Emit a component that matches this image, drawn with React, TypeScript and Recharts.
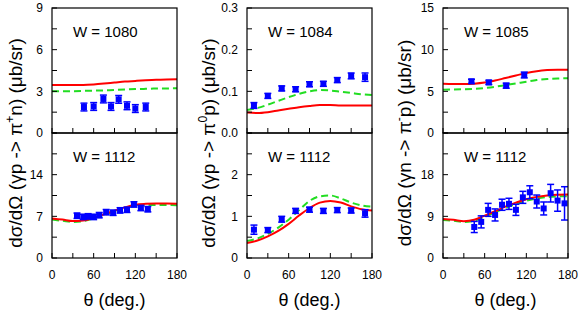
import React from "react";
import { ComposedChart, Line, Scatter, ErrorBar, XAxis, YAxis } from "recharts";

// angle grid for the model curves (deg)
const thetaGrid = [0, 15, 30, 45, 60, 75, 90, 105, 120, 135, 150, 165, 180];
const xTicks = [0, 30, 60, 90, 120, 150, 180];
const xTickLabels = [0, 60, 120, 180];

// gamma p -> pi+ n, W = 1080
const pipn1080Red = [3.46, 3.45, 3.45, 3.46, 3.5, 3.56, 3.63, 3.7, 3.75, 3.8, 3.84, 3.86, 3.87];
const pipn1080Green = [3.0, 3.0, 3.01, 3.03, 3.05, 3.07, 3.1, 3.13, 3.16, 3.18, 3.2, 3.21, 3.22];
const pipn1080Theta = [46, 60, 74, 85, 96, 108, 120, 135];
const pipn1080Data = [1.87, 1.91, 2.45, 1.91, 2.42, 1.96, 1.76, 1.87];
const pipn1080Err = [0.28, 0.28, 0.28, 0.28, 0.28, 0.28, 0.28, 0.28];

// gamma p -> pi+ n, W = 1112
const pipn1112Red = [6.65, 6.45, 6.2, 6.3, 6.75, 7.35, 7.95, 8.5, 8.95, 9.1, 9.15, 9.15, 9.1];
const pipn1112Green = [6.45, 6.25, 6.05, 6.2, 6.65, 7.25, 7.85, 8.4, 8.75, 8.9, 8.9, 8.9, 8.85];
const pipn1112Theta = [36, 45, 52, 60, 68, 78, 88, 98, 108, 118, 128, 138];
const pipn1112Data = [7.1, 6.9, 7.0, 6.9, 7.2, 7.7, 7.6, 8.0, 8.1, 9.0, 8.4, 8.2];
const pipn1112Err = [0.45, 0.45, 0.45, 0.45, 0.45, 0.45, 0.45, 0.45, 0.45, 0.45, 0.45, 0.45];

// gamma p -> pi0 p, W = 1084
const pi0p1084Red = [0.049, 0.048, 0.05, 0.054, 0.058, 0.062, 0.065, 0.067, 0.067, 0.066, 0.066, 0.066, 0.066];
const pi0p1084Green = [0.055, 0.06, 0.068, 0.077, 0.086, 0.094, 0.1, 0.103, 0.102, 0.099, 0.096, 0.093, 0.091];
const pi0p1084Theta = [10, 30, 50, 70, 90, 110, 130, 150, 170];
const pi0p1084Data = [0.066, 0.089, 0.107, 0.105, 0.117, 0.118, 0.127, 0.137, 0.134];
const pi0p1084Err = [0.007, 0.006, 0.006, 0.006, 0.006, 0.006, 0.006, 0.007, 0.01];

// gamma p -> pi0 p, W = 1112
const pi0p1112Red = [0.36, 0.42, 0.52, 0.65, 0.82, 1.02, 1.2, 1.33, 1.37, 1.33, 1.24, 1.17, 1.14];
const pi0p1112Green = [0.41, 0.47, 0.58, 0.73, 0.92, 1.15, 1.37, 1.48, 1.5, 1.43, 1.33, 1.26, 1.23];
const pi0p1112Theta = [10, 30, 50, 70, 90, 110, 130, 150, 170];
const pi0p1112Data = [0.68, 0.67, 0.93, 1.13, 1.16, 1.13, 1.15, 1.14, 1.07];
const pi0p1112Err = [0.11, 0.06, 0.07, 0.06, 0.06, 0.06, 0.06, 0.06, 0.09];

// gamma n -> pi- p, W = 1085
const pimp1085Red = [5.9, 5.88, 5.88, 5.92, 6.05, 6.3, 6.6, 6.9, 7.2, 7.42, 7.55, 7.6, 7.6];
const pimp1085Green = [5.2, 5.22, 5.25, 5.3, 5.4, 5.55, 5.75, 5.95, 6.15, 6.35, 6.48, 6.55, 6.56];
const pimp1085Theta = [41, 66, 91, 117];
const pimp1085Data = [6.2, 6.07, 5.68, 6.96];
const pimp1085Err = [0.25, 0.25, 0.3, 0.35];

// gamma n -> pi- p, W = 1112
const pimp1112Red = [8.42, 8.25, 7.95, 8.25, 9.15, 10.1, 11.1, 11.95, 12.7, 13.2, 13.5, 13.65, 13.7];
const pimp1112Green = [8.2, 8.05, 7.8, 8.05, 8.9, 9.85, 10.8, 11.65, 12.35, 12.85, 13.15, 13.3, 13.35];
const pimp1112Theta = [45, 55, 65, 75, 85, 95, 105, 115, 125, 135, 145, 155, 165, 175];
const pimp1112Data = [6.7, 7.8, 10.4, 9.3, 11.5, 11.7, 10.4, 13.1, 14.2, 12.2, 10.7, 14.0, 12.4, 11.8];
const pimp1112Err = [1.2, 1.3, 1.4, 1.3, 1.2, 1.2, 1.2, 1.3, 1.4, 1.4, 1.4, 1.9, 2.3, 3.6];

const FONT = "'Liberation Sans', Arial, Helvetica, sans-serif";
const RED = "#ff0000";
const GREEN = "#22dd22";
const BLUE = "#0000ff";
const TICK = 5;

const PLOT_W = 125;
const PLOT_H = 125;
const colLeft = [52, 247, 443];
const rowTop = [8, 133];

const toLine = (ys: number[]) => thetaGrid.map((x, i) => ({ x, y: ys[i] }));
const toPoints = (xs: number[], ys: number[], errs: number[]) =>
  xs.map((x, i) => ({ x, y: ys[i], err: errs[i] }));
const has = (arr: number[], v: number) => arr.some((a) => Math.abs(a - v) < 1e-9);

interface PanelProps {
  col: number;
  row: number;
  w: string;
  yMax: number;
  yTicks: number[];
  yLabels: number[];
  digits: number;
  red: number[];
  green: number[];
  pts: { x: number; y: number; err: number }[];
}

function Panel({ col, row, w, yMax, yTicks, yLabels, digits, red, green, pts }: PanelProps) {
  const showX = row === 1;

  const leftTick = (p: any) => {
    const v = p.payload.value;
    return (
      <g>
        <line x1={p.x} x2={p.x + TICK} y1={p.y} y2={p.y} stroke="#000" />
        {has(yLabels, v) && (
          <text x={p.x - 9} y={p.y + 4.3} textAnchor="end" fontSize={12} fontFamily={FONT} fill="#000">
            {v.toFixed(digits)}
          </text>
        )}
      </g>
    );
  };
  const rightTick = (p: any) => (
    <line x1={p.x} x2={p.x - TICK} y1={p.y} y2={p.y} stroke="#000" />
  );
  const bottomTick = (p: any) => {
    const v = p.payload.value;
    return (
      <g>
        <line x1={p.x} x2={p.x} y1={p.y} y2={p.y - TICK} stroke="#000" />
        {showX && has(xTickLabels, v) && (
          <text x={p.x} y={p.y + 20.5} textAnchor="middle" fontSize={12} fontFamily={FONT} fill="#000">
            {v}
          </text>
        )}
      </g>
    );
  };
  const topTick = (p: any) => (
    <line x1={p.x} x2={p.x} y1={p.y} y2={p.y + TICK} stroke="#000" />
  );

  const left = colLeft[col];
  const top = rowTop[row];

  return (
    <div style={{ position: "absolute", left: left - 40, top: top - 10 }}>
      <ComposedChart
        width={40 + PLOT_W + 10}
        height={10 + PLOT_H + 30}
        margin={{ top: 10, right: 10, left: 0, bottom: 0 }}
      >
        <XAxis
          xAxisId="b"
          dataKey="x"
          type="number"
          domain={[0, 180]}
          ticks={xTicks}
          allowDataOverflow
          height={30}
          tickSize={0}
          tickMargin={0}
          tickLine={false}
          interval={0}
          tick={bottomTick}
          axisLine={false}
        />
        <XAxis
          xAxisId="t"
          orientation="top"
          dataKey="x"
          type="number"
          domain={[0, 180]}
          ticks={xTicks}
          allowDataOverflow
          height={0}
          tickSize={0}
          tickMargin={0}
          tickLine={false}
          interval={0}
          tick={topTick}
          axisLine={false}
        />
        <YAxis
          yAxisId="l"
          dataKey="y"
          type="number"
          domain={[0, yMax]}
          ticks={yTicks}
          allowDataOverflow
          width={40}
          tickSize={0}
          tickMargin={0}
          tickLine={false}
          interval={0}
          tick={leftTick}
          axisLine={false}
        />
        <YAxis
          yAxisId="r"
          orientation="right"
          dataKey="y"
          type="number"
          domain={[0, yMax]}
          ticks={yTicks}
          allowDataOverflow
          width={0}
          tickSize={0}
          tickMargin={0}
          tickLine={false}
          interval={0}
          tick={rightTick}
          axisLine={false}
        />
        <Line
          xAxisId="b"
          yAxisId="l"
          data={toLine(green)}
          dataKey="y"
          type="monotone"
          stroke={GREEN}
          strokeWidth={2}
          strokeDasharray="7 4"
          dot={false}
          isAnimationActive={false}
        />
        <Line
          xAxisId="b"
          yAxisId="l"
          data={toLine(red)}
          dataKey="y"
          type="monotone"
          stroke={RED}
          strokeWidth={2}
          dot={false}
          isAnimationActive={false}
        />
        <Scatter
          xAxisId="b"
          yAxisId="l"
          data={pts}
          dataKey="y"
          fill={BLUE}
          isAnimationActive={false}
          shape={(p: any) => <rect x={p.cx - 3} y={p.cy - 3} width={6} height={6} fill={BLUE} />}
        >
          <ErrorBar dataKey="err" direction="y" width={3.5} stroke={BLUE} strokeWidth={1.5} />
        </Scatter>
      </ComposedChart>
      <svg
        width={40 + PLOT_W + 10}
        height={10 + PLOT_H + 1}
        style={{ position: "absolute", left: 0, top: 0, pointerEvents: "none" }}
      >
        <rect x={40} y={10} width={PLOT_W} height={PLOT_H} fill="none" stroke="#000" strokeWidth={1.2} />
        <text x={40 + 21} y={10 + 29} fontSize={15} fontFamily={FONT} fill="#000">
          {w}
        </text>
      </svg>
    </div>
  );
}

const range = (max: number, step: number) =>
  Array.from({ length: Math.round(max / step) + 1 }, (_, i) => +(i * step).toFixed(4));

function YTitle({ x, sup, rest, pre }: { x: number; sup: string; rest: string; pre: string }) {
  return (
    <text
      transform={`translate(${x},143) rotate(-90)`}
      textAnchor="middle"
      fontSize={19}
      fontFamily={FONT}
      fill="#000"
    >
      {pre}
      <tspan dy={-8} fontSize={12}>
        {sup}
      </tspan>
      <tspan dy={8}>{rest}</tspan>
    </text>
  );
}

export default function App() {
  return (
    <div
      style={{
        position: "absolute",
        left: 0,
        top: 0,
        width: 581,
        height: 313,
        background: "#fff",
        fontFamily: FONT,
      }}
    >
      <Panel col={0} row={0} w="W = 1080" yMax={9} yTicks={range(9, 1.5)} yLabels={[0, 3, 6, 9]} digits={0}
        red={pipn1080Red} green={pipn1080Green} pts={toPoints(pipn1080Theta, pipn1080Data, pipn1080Err)} />
      <Panel col={0} row={1} w="W = 1112" yMax={21} yTicks={range(21, 3.5)} yLabels={[0, 7, 14]} digits={0}
        red={pipn1112Red} green={pipn1112Green} pts={toPoints(pipn1112Theta, pipn1112Data, pipn1112Err)} />
      <Panel col={1} row={0} w="W = 1084" yMax={0.3} yTicks={range(0.3, 0.05)} yLabels={[0, 0.1, 0.2, 0.3]} digits={1}
        red={pi0p1084Red} green={pi0p1084Green} pts={toPoints(pi0p1084Theta, pi0p1084Data, pi0p1084Err)} />
      <Panel col={1} row={1} w="W = 1112" yMax={3} yTicks={range(3, 0.5)} yLabels={[0, 1, 2]} digits={0}
        red={pi0p1112Red} green={pi0p1112Green} pts={toPoints(pi0p1112Theta, pi0p1112Data, pi0p1112Err)} />
      <Panel col={2} row={0} w="W = 1085" yMax={15} yTicks={range(15, 2.5)} yLabels={[0, 5, 10, 15]} digits={0}
        red={pimp1085Red} green={pimp1085Green} pts={toPoints(pimp1085Theta, pimp1085Data, pimp1085Err)} />
      <Panel col={2} row={1} w="W = 1112" yMax={27} yTicks={range(27, 4.5)} yLabels={[0, 9, 18]} digits={0}
        red={pimp1112Red} green={pimp1112Green} pts={toPoints(pimp1112Theta, pimp1112Data, pimp1112Err)} />

      <svg width={581} height={313} style={{ position: "absolute", left: 0, top: 0, pointerEvents: "none" }}>
        <YTitle x={22} pre={"d\u03c3/d\u03a9 (\u03b3p -> \u03c0"} sup="+" rest={"n) (\u03bcb/sr)"} />
        <YTitle x={215} pre={"d\u03c3/d\u03a9 (\u03b3p -> \u03c0"} sup="0" rest={"p) (\u03bcb/sr)"} />
        <YTitle x={411} pre={"d\u03c3/d\u03a9 (\u03b3n -> \u03c0"} sup="-" rest={"p) (\u03bcb/sr)"} />
        {colLeft.map((l) => (
          <text key={l} x={l + PLOT_W / 2} y={306} textAnchor="middle" fontSize={18} fontFamily={FONT} fill="#000">
            {"\u03b8 (deg.)"}
          </text>
        ))}
      </svg>
    </div>
  );
}
